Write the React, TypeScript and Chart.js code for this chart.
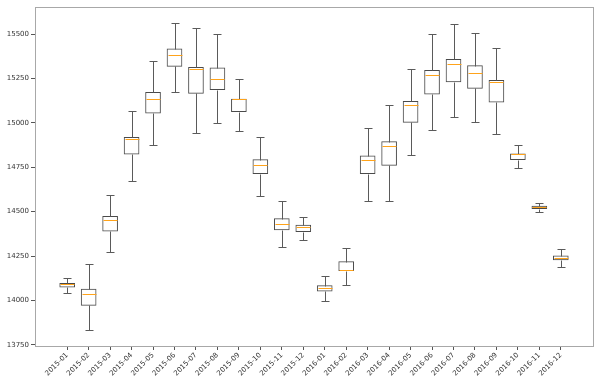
import React, { useEffect, useRef } from "react";
import { Chart, registerables } from "chart.js";

Chart.register(...registerables);

const categories = [
  "2015-01", "2015-02", "2015-03", "2015-04", "2015-05", "2015-06",
  "2015-07", "2015-08", "2015-09", "2015-10", "2015-11", "2015-12",
  "2016-01", "2016-02", "2016-03", "2016-04", "2016-05", "2016-06",
  "2016-07", "2016-08", "2016-09", "2016-10", "2016-11", "2016-12",
];

const whiskerLow = [
  14041, 13833, 14272, 14675, 14877, 15172, 14945, 15001, 14952, 14590, 14300, 14341,
  13998, 14088, 14560, 14559, 14821, 14960, 15031, 15006, 14936, 14744, 14497, 14187,
];
const q1 = [
  14075, 13973, 14391, 14823, 15055, 15318, 15166, 15187, 15063, 14714, 14397, 14388,
  14052, 14168, 14714, 14761, 15003, 15161, 15230, 15194, 15117, 14793, 14517, 14228,
];
const median = [
  14091, 14035, 14452, 14907, 15133, 15382, 15303, 15247, 15133, 14761, 14431, 14412,
  14069, 14170, 14789, 14868, 15099, 15268, 15332, 15281, 15230, 14823, 14528, 14241,
];
const q3 = [
  14097, 14065, 14474, 14919, 15172, 15417, 15313, 15310, 15134, 14793, 14461, 14424,
  14084, 14219, 14815, 14894, 15121, 15296, 15358, 15322, 15239, 14825, 14532, 14251,
];
const whiskerHigh = [
  14129, 14206, 14596, 15065, 15350, 15564, 15536, 15498, 15245, 14919, 14562, 14472,
  14138, 14294, 14969, 15099, 15305, 15502, 15555, 15507, 15419, 14874, 14547, 14292,
];

const yTicks = [13750, 14000, 14250, 14500, 14750, 15000, 15250, 15500];

const BOX_W = 15;
const CAP_W = 8;

const boxPlugin = {
  id: "boxExtras",
  afterDatasetsDraw(chart: any) {
    const { ctx, scales, chartArea } = chart;
    const x = scales.x;
    const y = scales.y;
    ctx.save();
    ctx.lineWidth = 1;
    for (let i = 0; i < categories.length; i++) {
      const px = Math.round(x.getPixelForValue(i)) + 0.5;
      const yLo = Math.round(y.getPixelForValue(whiskerLow[i])) + 0.5;
      const yQ1 = Math.round(y.getPixelForValue(q1[i])) + 0.5;
      const yQ3 = Math.round(y.getPixelForValue(q3[i])) + 0.5;
      const yHi = Math.round(y.getPixelForValue(whiskerHigh[i])) + 0.5;
      const yMed = Math.round(y.getPixelForValue(median[i])) + 0.5;
      ctx.strokeStyle = "#5a5a5a";
      ctx.beginPath();
      ctx.moveTo(px, yQ3);
      ctx.lineTo(px, yHi);
      ctx.moveTo(px, yQ1);
      ctx.lineTo(px, yLo);
      ctx.moveTo(px - CAP_W / 2, yHi);
      ctx.lineTo(px + CAP_W / 2, yHi);
      ctx.moveTo(px - CAP_W / 2, yLo);
      ctx.lineTo(px + CAP_W / 2, yLo);
      ctx.stroke();
      ctx.strokeStyle = "#ffa31a";
      ctx.beginPath();
      ctx.moveTo(px - BOX_W / 2 + 0.5, yMed);
      ctx.lineTo(px + BOX_W / 2 - 0.5, yMed);
      ctx.stroke();
    }
    ctx.strokeStyle = "#a8a8a8";
    ctx.strokeRect(
      Math.round(chartArea.left) + 0.5,
      Math.round(chartArea.top) + 0.5,
      Math.round(chartArea.right - chartArea.left),
      Math.round(chartArea.bottom - chartArea.top)
    );
    ctx.restore();
  },
};

export default function App() {
  const ref = useRef<HTMLCanvasElement>(null);
  useEffect(() => {
    if (!ref.current) return;
    const chart = new Chart(ref.current, {
      type: "bar",
      data: {
        datasets: [
          {
            data: categories.map((_, i) => ({ x: i, y: [q1[i], q3[i]] })) as any,
            backgroundColor: "#ffffff",
            borderColor: "#4a4a4a",
            borderWidth: 1,
            borderSkipped: false,
            barThickness: BOX_W,
          },
        ],
      },
      options: {
        animation: false,
        responsive: true,
        maintainAspectRatio: false,
        layout: { padding: { top: 7, right: 7, left: 0, bottom: 0 } },
        plugins: { legend: { display: false }, tooltip: { enabled: false } },
        scales: {
          x: {
            type: "linear",
            offset: false,
            min: -1.5,
            max: 24.5,
            afterBuildTicks: (scale: any) => {
              scale.ticks = categories.map((_, i) => ({ value: i }));
            },
            afterFit: (scale: any) => {
              scale.height = 36;
            },
            border: { display: false },
            grid: {
              offset: false,
              drawOnChartArea: false,
              drawTicks: true,
              tickLength: 4,
              color: "#555555",
            },
            ticks: {
              autoSkip: false,
              minRotation: 45,
              maxRotation: 45,
              padding: 1,
              color: "#333333",
              font: { family: "DejaVu Sans", size: 7 },
              callback: (v: any) => categories[v as number] ?? "",
            },
          },
          y: {
            type: "linear",
            min: 13744,
            max: 15652,
            afterBuildTicks: (scale: any) => {
              scale.ticks = yTicks.map((v) => ({ value: v }));
            },
            afterFit: (scale: any) => {
              scale.width = 35;
            },
            border: { display: false },
            grid: {
              drawOnChartArea: false,
              drawTicks: true,
              tickLength: 4,
              color: "#555555",
            },
            ticks: {
              padding: 2,
              color: "#333333",
              font: { family: "DejaVu Sans", size: 7 },
              callback: (v: any) => String(v),
            },
          },
        },
      },
      plugins: [boxPlugin],
    });
    return () => chart.destroy();
  }, []);
  return (
    <div style={{ position: "fixed", left: 0, top: 0, width: 600, height: 382, background: "#fff" }}>
      <canvas ref={ref} />
    </div>
  );
}
